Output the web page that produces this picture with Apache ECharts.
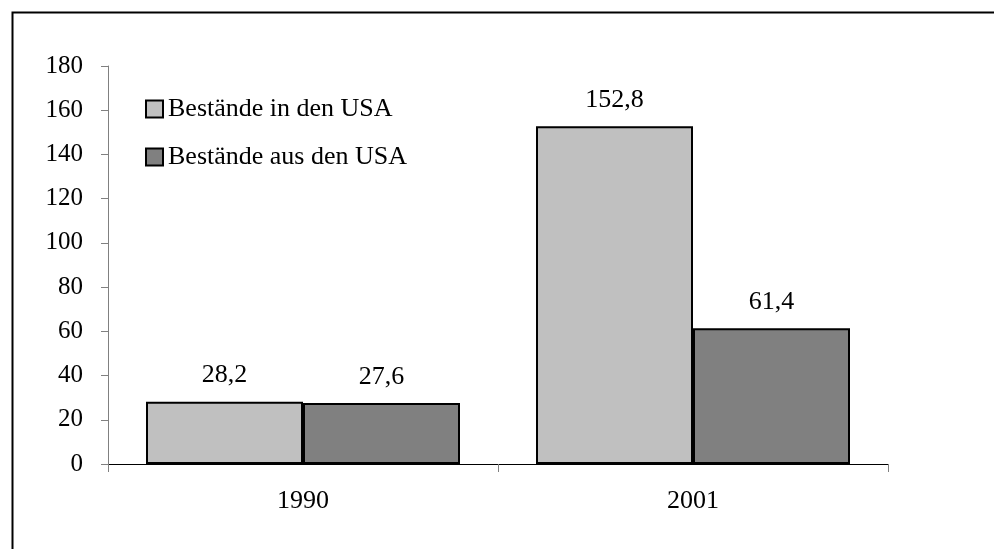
<!DOCTYPE html>
<html>
<head>
<meta charset="utf-8">
<script src="https://cdn.jsdelivr.net/npm/echarts@6/dist/echarts.min.js"></script>
<style>
  html, body { margin: 0; padding: 0; background: #fff; }
  #chart { width: 994px; height: 549px; }
</style>
</head>
<body>
<div id="chart"></div>
<script>
  // Daten
  var categories = ["1990", "2001"];
  var seriesNames = ["Bestände in den USA", "Bestände aus den USA"];
  var inUSA = [28.2, 152.8];
  var ausUSA = [27.6, 61.4];
  var yTicks = [0, 20, 40, 60, 80, 100, 120, 140, 160, 180];

  var font = "Liberation Serif";
  var chart = echarts.init(document.getElementById("chart"));

  function fmt(v) {
    return String(v).replace(".", ",");
  }

  var barLabel = {
    show: true,
    position: "top",
    distance: 13,
    fontFamily: font,
    fontSize: 26,
    color: "#000",
    formatter: function (p) { return fmt(p.value); },
  };

  chart.setOption({
    animation: false,
    backgroundColor: "#fff",
    graphic: [
      {
        type: "rect",
        shape: { x: 12.5, y: 12.5, width: 1000, height: 600 },
        style: { fill: "none", stroke: "#000", lineWidth: 2 },
        silent: true,
      },
    ],
    grid: { left: 108, right: 106, top: 66, bottom: 85 },
    legend: {
      orient: "vertical",
      left: 140,
      top: 91,
      itemGap: 22,
      itemWidth: 17,
      itemHeight: 17,
      icon: "rect",
      textStyle: { fontFamily: font, fontSize: 26, color: "#000", padding: [0, 0, 0, 0] },
      data: seriesNames,
    },
    xAxis: {
      type: "category",
      data: categories,
      axisLine: { lineStyle: { color: "#000", width: 1 } },
      axisTick: { show: true, length: 8, lineStyle: { color: "#808080" } },
      axisLabel: { fontFamily: font, fontSize: 26, color: "#000", margin: 24 },
    },
    yAxis: {
      type: "value",
      min: yTicks[0],
      max: yTicks[yTicks.length - 1],
      interval: 20,
      splitLine: { show: false },
      axisLine: { show: true, lineStyle: { color: "#808080", width: 1 } },
      axisTick: { show: true, length: 7, lineStyle: { color: "#808080" } },
      axisLabel: { fontFamily: font, fontSize: 25, color: "#000", margin: 25 },
    },
    series: [
      {
        name: seriesNames[0],
        type: "bar",
        data: inUSA,
        barWidth: 157,
        barGap: "0%",
        itemStyle: { color: "#c0c0c0", borderColor: "#000", borderWidth: 2 },
        label: barLabel,
      },
      {
        name: seriesNames[1],
        type: "bar",
        data: ausUSA,
        barWidth: 157,
        barGap: "0%",
        itemStyle: { color: "#808080", borderColor: "#000", borderWidth: 2 },
        label: barLabel,
      },
    ],
  });
</script>
</body>
</html>
